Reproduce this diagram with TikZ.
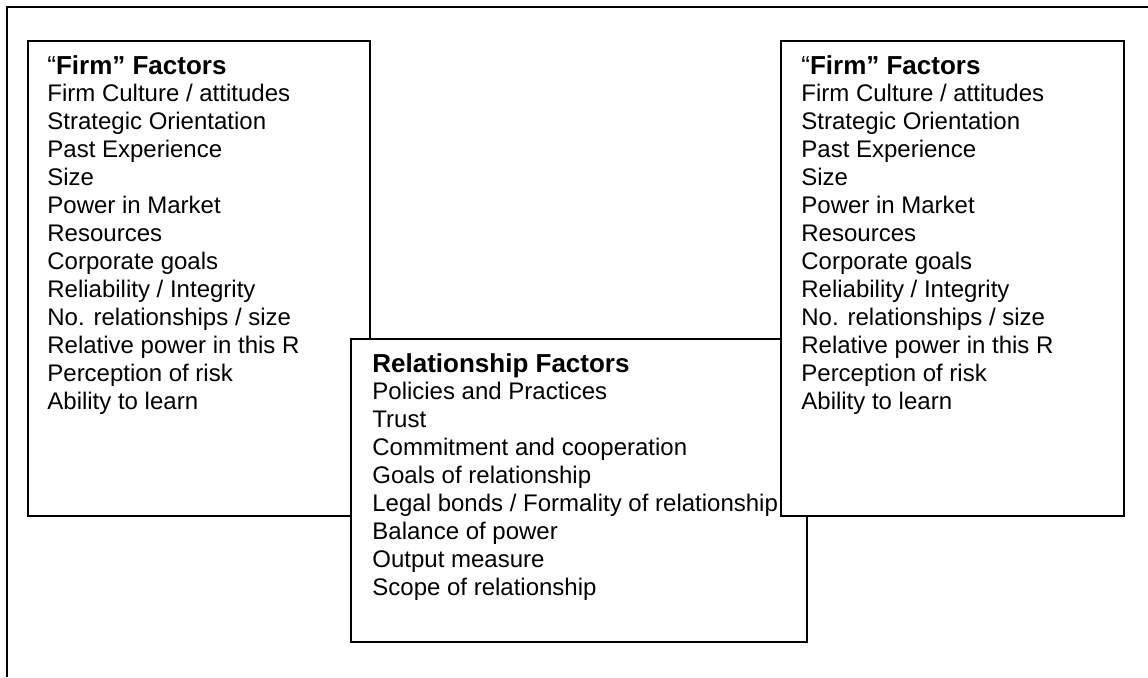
\documentclass[tikz,border=0pt]{standalone}
\usepackage{fontspec}
\setmainfont{Liberation Sans}
\begin{document}
\begin{tikzpicture}[x=0.5pt,y=-0.5pt,
  factorbox/.style={draw, line width=1pt, fill=white, anchor=north west, inner sep=0pt},
  listtext/.style={anchor=north west, inner sep=0pt, align=left, font=\fontsize{12}{14}\selectfont}]
\newcommand{\boxtitle}[1]{{\fontsize{13}{14}\selectfont\bfseries #1}}
\useasboundingbox (0,0) rectangle (1148,677);
% outer frame, only top and left edges show
\draw[line width=1pt] (1148,7) -- (7,7) -- (7,677);

% firm factors, left
\node[factorbox, minimum width=171pt, minimum height=237.5pt] (firmL) at (27,40) {};
\node[listtext] (firmLtext) at ([shift={(20,15)}]firmL.north west)
  {{\fontsize{13}{14}\selectfont “}\boxtitle{Firm” Factors}\\[-0.5pt]
   Firm Culture / attitudes\\
   Strategic Orientation\\
   Past Experience\\
   Size\\
   Power in Market\\
   Resources\\
   Corporate goals\\
   Reliability / Integrity\\
   No. relationships / size\\
   Relative power in this R\\
   Perception of risk\\
   Ability to learn};

% relationship factors, middle
\node[factorbox, minimum width=228pt, minimum height=151.5pt] (relation) at (350,338) {};
\node[listtext] (relationtext) at ([shift={(22,15)}]relation.north west)
  {\boxtitle{Relationship Factors}\\[-0.5pt]
   Policies and Practices\\
   Trust\\
   Commitment and cooperation\\
   Goals of relationship\\
   Legal bonds / Formality of relationship\\
   Balance of power\\
   Output measure\\
   Scope of relationship};

% firm factors, right
\node[factorbox, minimum width=171.5pt, minimum height=237.5pt] (firmR) at (780,40) {};
\node[listtext] (firmRtext) at ([shift={(21,15)}]firmR.north west)
  {{\fontsize{13}{14}\selectfont “}\boxtitle{Firm” Factors}\\[-0.5pt]
   Firm Culture / attitudes\\
   Strategic Orientation\\
   Past Experience\\
   Size\\
   Power in Market\\
   Resources\\
   Corporate goals\\
   Reliability / Integrity\\
   No. relationships / size\\
   Relative power in this R\\
   Perception of risk\\
   Ability to learn};
\end{tikzpicture}
\end{document}
